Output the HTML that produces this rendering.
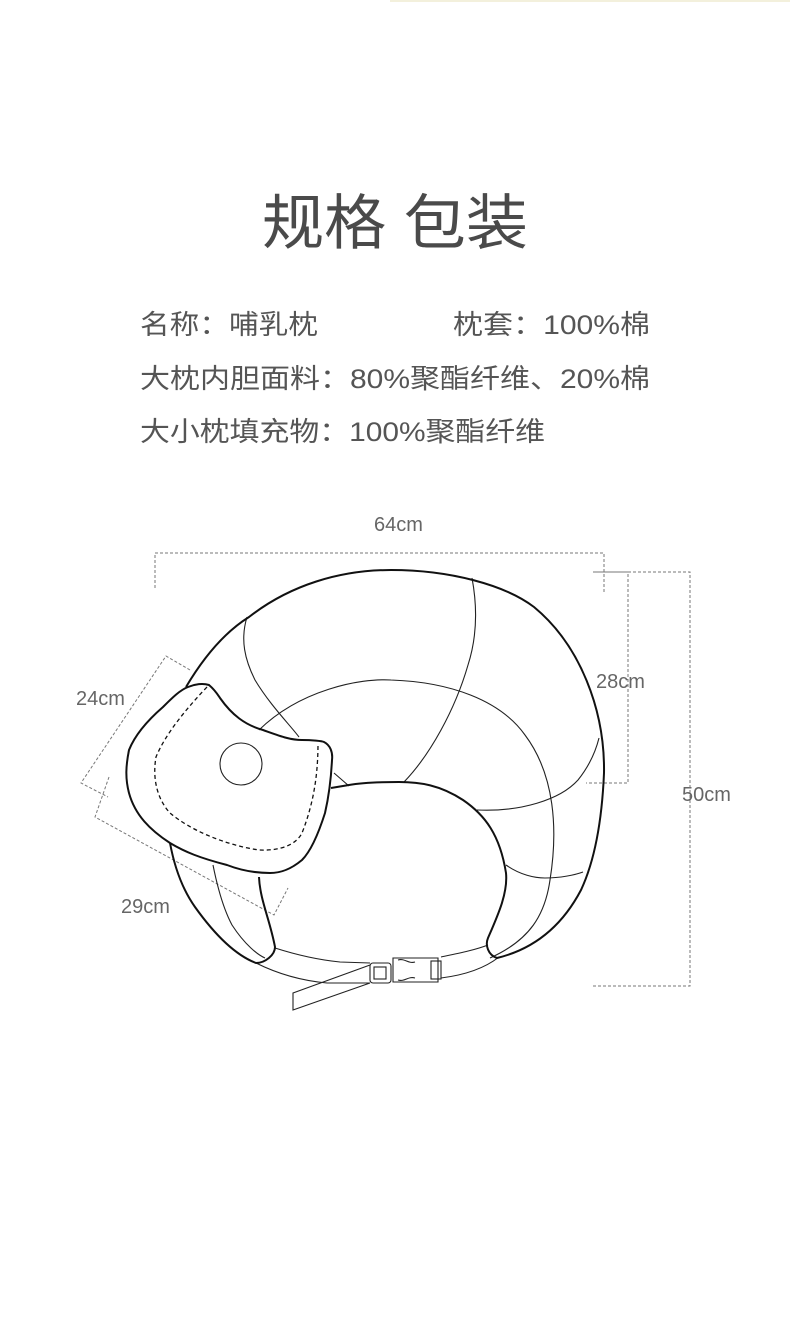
<!DOCTYPE html>
<html><head><meta charset="utf-8"><style>
html,body{margin:0;padding:0;background:#fff;}
svg{display:block;}
</style></head><body>
<svg width="790" height="1326" viewBox="0 0 790 1326" xmlns="http://www.w3.org/2000/svg">
<rect width="790" height="1326" fill="#fff"/>
<line x1="390" y1="1" x2="790" y2="1" stroke="#f3f0dc" stroke-width="2"/>
<g font-family="'Liberation Sans','Noto Sans CJK SC',sans-serif" fill="#4a4a4a">
<text x="262" y="244" font-size="60" textLength="266" lengthAdjust="spacingAndGlyphs">规格 包装</text>
<g font-size="27" fill="#555">
<text x="140" y="334" textLength="178" lengthAdjust="spacingAndGlyphs">名称：哺乳枕</text>
<text x="453" y="334" textLength="197" lengthAdjust="spacingAndGlyphs">枕套：100%棉</text>
<text x="140" y="388" textLength="510" lengthAdjust="spacingAndGlyphs">大枕内胆面料：80%聚酯纤维、20%棉</text>
<text x="140" y="441" textLength="405" lengthAdjust="spacingAndGlyphs">大小枕填充物：100%聚酯纤维</text>
</g>
<g font-size="20" fill="#666">
<text x="374" y="531">64cm</text>
<text x="596" y="688">28cm</text>
<text x="682" y="801">50cm</text>
<text x="76" y="705">24cm</text>
<text x="121" y="913">29cm</text>
</g>
</g>
<g fill="none" stroke="#777" stroke-width="1" stroke-dasharray="3,2">
<path d="M155,588 V553 H604 V592"/>
<path d="M595,572 H628 V783 H586"/>
<path d="M593,572 H690 V986 H593"/>
<path d="M190,670 L166,656 L81,783 L108,797"/>
<path d="M109,777 L95,817 L274,915 L288,888"/>
</g>
<g fill="none" stroke="#222" stroke-width="1.1">
<path d="M259,730 C300,690 360,678 391,680 C450,682 500,700 525,735 C555,775 558,830 550,880 C545,915 530,940 490,958"/>
<path d="M247,617 C240,640 245,660 255,680 C270,705 290,725 299,737 M334,773 L349,786"/>
<path d="M472,578 C478,610 476,640 468,665 C455,710 430,755 404,782"/>
<path d="M477,810 C520,812 560,800 578,780 C590,765 596,750 599,738"/>
<path d="M506,865 C520,875 535,878 545,878 C560,878 575,875 583,872"/>
<path d="M213,865 C218,890 224,910 232,925 C245,945 258,955 265,958"/>
<path d="M256,963 C280,975 305,981 327,983 L370,983 M275,948 C300,956 320,960 340,962 L370,963"/>
<path d="M441,957 C460,953 475,950 488,945 M441,978 C465,975 485,968 499,957"/>
<path d="M370,965 L293,993 L293,1010 L370,983"/>
<rect x="370" y="963" width="21" height="20" rx="3"/>
<rect x="374" y="967" width="12" height="12"/>
<path d="M393,958 H438 V982 H393 Z M398,960 C405,958 408,964 415,962 M398,980 C405,982 408,976 415,978"/>
<rect x="431" y="961" width="10" height="18"/>
<circle cx="241" cy="764" r="21"/>
</g>
<g fill="none" stroke="#111" stroke-width="2">
<path d="M186,687 C205,655 225,632 249,617 C290,585 340,570 391,570 C450,570 505,585 534,607 C580,645 605,710 604,773 C602,820 595,860 581,890 C560,930 530,950 497,958 C488,955 485,945 488,938 C498,915 508,893 506,873 C500,835 485,815 463,800 C440,785 420,782 399,782 C375,782 360,783 349,785 L331,788"/>
<path d="M170,843 C175,870 183,890 195,907 C215,935 235,955 256,963 C265,963 275,955 275,947 C270,920 260,900 259,877"/>
<path d="M209,685 C215,690 218,695 220,698 C232,715 245,725 263,730 C280,736 290,740 302,740 C312,740 322,741 324,742 C330,745 333,752 332,760 C331,780 328,800 325,813 C318,835 310,852 302,860 C290,870 280,873 270,873 C255,873 240,870 227,865 C200,858 185,852 170,843 C150,830 135,815 129,793 C125,778 126,765 129,750 C135,735 148,720 163,707 C172,698 180,690 188,687 C195,684 203,683 209,685 Z"/>
</g>
<path d="M207,687 C185,710 165,735 156,757 C152,780 158,800 170,813 C190,830 225,845 259,850 C280,851 296,845 302,833 C315,800 318,770 318,743" fill="none" stroke="#111" stroke-width="1.3" stroke-dasharray="4,3"/>
</svg>
</body></html>
